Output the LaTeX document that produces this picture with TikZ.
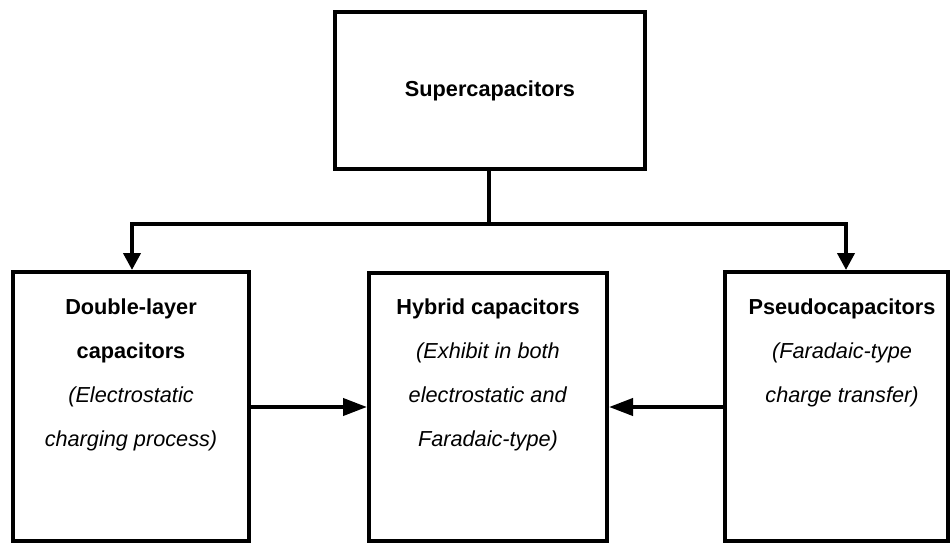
\documentclass[tikz,border=0pt]{standalone}
\usepackage{fontspec}
\setmainfont{Liberation Sans}
\usetikzlibrary{arrows.meta}
\begin{document}
\begin{tikzpicture}[x=1pt,y=-1pt,
  boxstyle/.style={draw=black,line width=4pt,inner sep=0pt,minimum width=#1},
  txt/.style={align=center,inner sep=0pt,anchor=north,font=\fontsize{21.7}{43.7}\selectfont},
  conn/.style={line width=4pt,line cap=rect},
  vhead/.style={line width=4pt,-{Triangle[length=17pt,width=17pt]}},
  hhead/.style={line width=4pt,-{Triangle[length=24pt,width=17pt]}}]
\useasboundingbox (0,0) rectangle (951,543);
\node[boxstyle=310pt,minimum height=157pt,font=\fontsize{21.7}{26}\selectfont\bfseries] (top) at (490,90.5) {Supercapacitors};
\node[boxstyle=236pt,minimum height=269pt] (left) at (131,406.5) {};
\node[boxstyle=238pt,minimum height=268pt] (mid) at (488,407) {};
\node[boxstyle=223pt,minimum height=269pt] (right) at (836.5,406.5) {};
\node[txt] (lefttxt) at (131,299) {\textbf{Double-layer}\\\textbf{capacitors}\\\textit{(Electrostatic}\\\textit{charging process)}};
\node[txt] (midtxt) at (488,299) {\textbf{Hybrid capacitors}\\\textit{(Exhibit in both}\\\textit{electrostatic and}\\\textit{Faradaic-type)}};
\node[txt] (righttxt) at (842,299) {\textbf{Pseudocapacitors}\\\textit{(Faradaic-type}\\\textit{charge transfer)}};
\coordinate (jn) at (489,224);
\coordinate (barL) at (132,224);
\coordinate (barR) at (846,224);
\draw[conn] (top.south -| jn) -- (jn);
\draw[conn] (barL) -- (barR);
\draw[vhead] (barL) -- (barL |- left.north);
\draw[vhead] (barR) -- (barR |- right.north);
\draw[hhead] (left.east |- mid.west) -- (mid.west);
\draw[hhead] (right.west |- mid.east) -- (mid.east);
\end{tikzpicture}
\end{document}
